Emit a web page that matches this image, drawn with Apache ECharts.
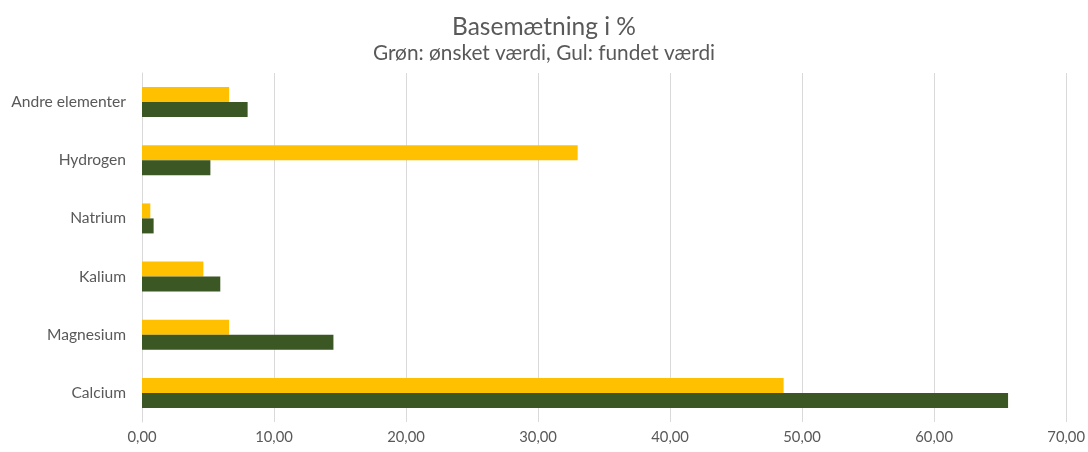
<!DOCTYPE html>
<html><head><meta charset="utf-8">
<script src="https://cdn.jsdelivr.net/npm/echarts@6/dist/echarts.min.js"></script>
<style>html,body{margin:0;padding:0;background:#fff}#c{width:1088px;height:452px}</style>
</head><body><div id="c"></div>
<script>
const categories = ['Calcium', 'Magnesium', 'Kalium', 'Natrium', 'Hydrogen', 'Andre elementer'];
const fundet = [48.6, 6.6, 4.65, 0.63, 33.0, 6.6];   // Gul: fundet værdi
const onsket = [65.6, 14.5, 5.93, 0.88, 5.18, 8.0];  // Grøn: ønsket værdi
const titleText = 'Basemætning i %';
const subtitleText = 'Grøn: ønsket værdi, Gul: fundet værdi';

const font = 'Lato, "Open Sans", sans-serif';
const chart = echarts.init(document.getElementById('c'));
chart.setOption({
  animation: false,
  title: {
    text: titleText, subtext: subtitleText, left: 'center', top: 10, itemGap: 3,
    textStyle: {fontFamily: font, fontSize: 24.5, fontWeight: 'normal', color: '#595959'},
    subtextStyle: {fontFamily: font, fontSize: 20.8, color: '#595959'}
  },
  grid: {left: 142, right: 21, top: 73, bottom: 30, containLabel: false},
  xAxis: {
    type: 'value', min: 0, max: 70, interval: 10,
    axisLine: {show: false}, axisTick: {show: false},
    splitLine: {lineStyle: {color: '#d9d9d9', width: 1}},
    axisLabel: {fontFamily: font, fontSize: 14.8, color: '#595959', margin: 8,
      formatter: v => v.toFixed(2).replace('.', ',')}
  },
  yAxis: {
    type: 'category', data: categories,
    axisLine: {show: true, lineStyle: {color: '#d9d9d9'}}, axisTick: {show: false},
    axisLabel: {fontFamily: font, fontSize: 15.6, color: '#595959', margin: 16}
  },
  series: [
    {name: 'fundet', type: 'bar', data: fundet, barWidth: 15, barGap: '0%',
     itemStyle: {color: '#FFC000'}},
    {name: 'ønsket', type: 'bar', data: onsket, barWidth: 15, barGap: '0%',
     itemStyle: {color: '#3A5724'}}
  ]
});
</script></body></html>
